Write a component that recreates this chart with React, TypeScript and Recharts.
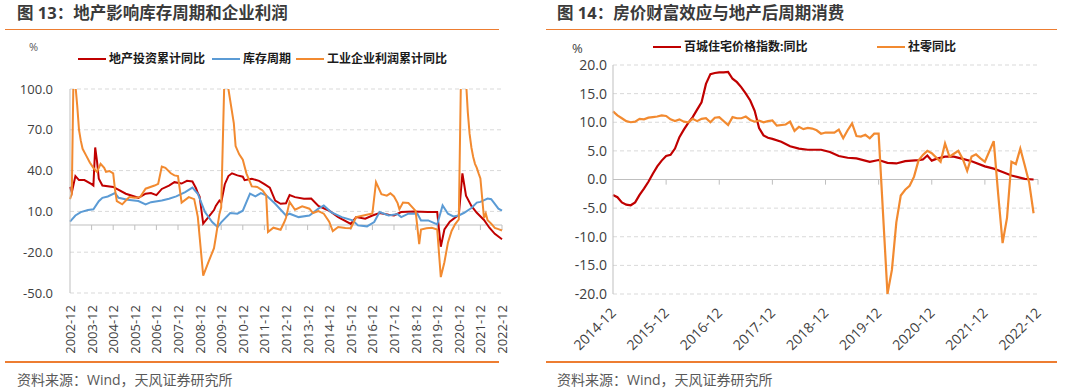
import { CartesianGrid, Line, LineChart, ReferenceLine, XAxis, YAxis } from "recharts";

type Point = [string, number];

// 图13：地产影响库存周期和企业利润 (monthly, base 2002-12)
const LEFT_BASE = "2002-12";
const leftYears = [2002, 2003, 2004, 2005, 2006, 2007, 2008, 2009, 2010, 2011, 2012, 2013, 2014, 2015, 2016, 2017, 2018, 2019, 2020, 2021, 2022];
const leftYTicks = [-50, -20, 10, 40, 70, 100];

const investYoY: Point[] = [
  ["2002-12", 28], ["2003-01", 24], ["2003-03", 36], ["2003-05", 33], ["2003-08", 33], ["2003-12", 30],
  ["2004-01", 29], ["2004-02", 57], ["2004-03", 47], ["2004-04", 34], ["2004-06", 29], ["2004-12", 28],
  ["2005-07", 23], ["2006-02", 20], ["2006-06", 23], ["2006-09", 23.5], ["2006-12", 22], ["2007-03", 26.5],
  ["2007-07", 29], ["2007-10", 31.5], ["2008-02", 30.5], ["2008-05", 32.5], ["2008-08", 32], ["2008-10", 27],
  ["2008-11", 23.5], ["2008-12", 21], ["2009-02", 1], ["2009-05", 6], ["2009-08", 11], ["2009-09", 14],
  ["2009-11", 18], ["2009-12", 16.5], ["2010-02", 30], ["2010-04", 36], ["2010-06", 38], ["2010-09", 36.5],
  ["2010-12", 35.5], ["2011-01", 33], ["2011-05", 34], ["2011-09", 32.5], ["2011-12", 30], ["2012-03", 27.5],
  ["2012-06", 18], ["2012-09", 15.6], ["2012-12", 16], ["2013-02", 22], ["2013-05", 20.5], ["2013-10", 19.3],
  ["2014-02", 19.5], ["2014-06", 14], ["2014-12", 10.5], ["2015-05", 5.8], ["2015-12", 0.8], ["2016-03", 5.8],
  ["2016-08", 4.6], ["2016-12", 7], ["2017-04", 8.8], ["2017-09", 7.5], ["2017-12", 7], ["2018-04", 9.5],
  ["2018-11", 10], ["2019-07", 9.5], ["2019-12", 9.5], ["2020-02", -16], ["2020-04", -3.3], ["2020-07", 2.5],
  ["2020-11", 6.5], ["2020-12", 7], ["2021-02", 38], ["2021-04", 21.6], ["2021-07", 14], ["2021-10", 9],
  ["2022-02", 3.7], ["2022-05", -2], ["2022-08", -6.5], ["2022-12", -10.5],
];

const inventoryCycle: Point[] = [
  ["2002-12", 2.5], ["2003-03", 7], ["2003-06", 9.5], ["2003-10", 11], ["2004-01", 11.5], ["2004-04", 17.5],
  ["2004-06", 20], ["2004-09", 21], ["2005-01", 23.5], ["2005-03", 20], ["2005-08", 18.6], ["2006-02", 17.6],
  ["2006-06", 15.2], ["2006-09", 16.8], ["2007-03", 18], ["2007-07", 19.3], ["2007-11", 21], ["2008-04", 24.2],
  ["2008-08", 27.5], ["2008-11", 23], ["2009-03", 9.5], ["2009-07", 2.2], ["2009-10", -1.5], ["2009-12", 2],
  ["2010-05", 8.8], ["2010-09", 8.3], ["2010-12", 10.5], ["2011-04", 23], ["2011-07", 21], ["2011-10", 23.5],
  ["2012-01", 21.8], ["2012-06", 15.6], ["2012-12", 7], ["2013-02", 8.3], ["2013-07", 5.8], ["2014-01", 7],
  ["2014-06", 12], ["2014-09", 14.4], ["2015-01", 9.5], ["2015-07", 5.8], ["2016-01", 3.4], ["2016-04", -0.3],
  ["2016-09", -1], ["2017-01", 2.2], ["2017-04", 9.5], ["2017-09", 7], ["2018-02", 8], ["2018-04", 5.8],
  ["2018-08", 8.3], ["2019-01", 8.3], ["2019-03", 3.4], ["2019-07", 3.4], ["2019-12", 0.4], ["2020-03", 14.4],
  ["2020-06", 8.3], ["2020-09", 6.3], ["2020-12", 7], ["2021-03", 9], ["2021-07", 12.5], ["2021-10", 16.5],
  ["2021-12", 17], ["2022-04", 19.5], ["2022-06", 19], ["2022-08", 15.5], ["2022-10", 12], ["2022-12", 10.5],
];

const profitYoY: Point[] = [
  ["2002-12", 19], ["2003-01", 23], ["2003-02", 116], ["2003-03", 103], ["2003-04", 88], ["2003-05", 70],
  ["2003-06", 62], ["2003-07", 56], ["2003-09", 51], ["2003-11", 46], ["2004-01", 42], ["2004-03", 39],
  ["2004-05", 45], ["2004-07", 42], ["2004-08", 39], ["2004-10", 39.6], ["2004-12", 38], ["2005-01", 26],
  ["2005-02", 17.5], ["2005-05", 15.2], ["2005-07", 18], ["2005-09", 20.5], ["2005-12", 20], ["2006-03", 20.5],
  ["2006-06", 26.7], ["2006-11", 29], ["2007-01", 30.3], ["2007-03", 43], ["2007-05", 42], ["2007-08", 38],
  ["2007-10", 36.5], ["2007-12", 36], ["2008-02", 16.5], ["2008-06", 20.5], ["2008-09", 19], ["2008-11", 6],
  ["2009-02", -37.3], ["2009-05", -27], ["2009-08", -17], ["2009-09", -9], ["2009-11", 8], ["2009-12", 13],
  ["2010-02", 120], ["2010-04", 100], ["2010-07", 75], ["2010-08", 58], ["2010-10", 52], ["2010-12", 48],
  ["2011-02", 38], ["2011-05", 28.4], ["2011-08", 28], ["2011-11", 25.4], ["2012-01", 21.8], ["2012-02", -5.2],
  ["2012-05", -2], ["2012-09", -3.5], ["2012-11", 2], ["2012-12", 5.3], ["2013-02", 17], ["2013-05", 11.2],
  ["2013-09", 13.7], ["2014-01", 12], ["2014-03", 8.8], ["2014-06", 10.2], ["2014-09", 8.3], ["2014-12", 2.5],
  ["2015-02", -4.5], ["2015-05", -1.5], ["2015-09", -2.2], ["2015-12", -2.3], ["2016-03", 5.8], ["2016-07", 7],
  ["2016-12", 8.5], ["2017-02", 31.5], ["2017-05", 22.7], ["2017-08", 21.6], ["2017-10", 23.3], ["2017-12", 21],
  ["2018-02", 16.1], ["2018-03", 11.6], ["2018-05", 16.5], ["2018-08", 16.2], ["2018-11", 11.8], ["2018-12", 10.3],
  ["2019-02", -14], ["2019-03", -3.3], ["2019-06", -2.4], ["2019-09", -2.1], ["2019-12", -3.3], ["2020-02", -38.3],
  ["2020-04", -27.4], ["2020-06", -12.8], ["2020-08", -4.4], ["2020-10", 0.7], ["2020-12", 4.1], ["2021-02", 179],
  ["2021-03", 137], ["2021-04", 106], ["2021-05", 83], ["2021-06", 67], ["2021-07", 57], ["2021-08", 50],
  ["2021-09", 45], ["2021-10", 42], ["2021-11", 38], ["2021-12", 34.3], ["2022-02", 5], ["2022-03", 8.5],
  ["2022-04", 3.5], ["2022-06", 1], ["2022-08", -2.1], ["2022-10", -3], ["2022-12", -4],
];

// 图14：房价财富效应与地产后周期消费 (monthly, base 2014-12)
const RIGHT_BASE = "2014-12";
const rightYears = [2014, 2015, 2016, 2017, 2018, 2019, 2020, 2021, 2022];
const rightYTicks = [-20, -15, -10, -5, 0, 5, 10, 15, 20];

const housePriceYoY: Point[] = [
  ["2014-12", -2.7], ["2015-01", -3.1], ["2015-02", -4.0], ["2015-03", -4.4], ["2015-04", -4.5], ["2015-05", -4.0],
  ["2015-06", -2.7], ["2015-07", -1.6], ["2015-08", -0.4], ["2015-09", 1.0], ["2015-10", 2.3], ["2015-11", 3.3],
  ["2015-12", 4.1], ["2016-01", 4.3], ["2016-02", 5.4], ["2016-03", 7.4], ["2016-04", 8.7], ["2016-05", 9.9],
  ["2016-06", 10.9], ["2016-07", 12.2], ["2016-08", 13.5], ["2016-09", 16.7], ["2016-10", 18.4], ["2016-11", 18.6],
  ["2016-12", 18.7], ["2017-01", 18.7], ["2017-02", 18.8], ["2017-03", 17.6], ["2017-04", 17.0], ["2017-05", 16.1],
  ["2017-06", 15.0], ["2017-07", 13.8], ["2017-08", 12.0], ["2017-09", 9.0], ["2017-10", 7.7], ["2017-11", 7.3],
  ["2017-12", 7.1], ["2018-02", 6.6], ["2018-04", 5.8], ["2018-06", 5.4], ["2018-08", 5.2], ["2018-11", 5.2],
  ["2019-01", 4.8], ["2019-03", 4.1], ["2019-05", 3.8], ["2019-07", 3.7], ["2019-10", 3.1], ["2019-12", 3.4],
  ["2020-02", 2.9], ["2020-04", 2.8], ["2020-06", 3.2], ["2020-09", 3.4], ["2020-10", 3.5], ["2020-11", 4.2],
  ["2020-12", 3.3], ["2021-01", 3.6], ["2021-03", 4.0], ["2021-05", 4.0], ["2021-07", 3.6], ["2021-09", 3.2],
  ["2021-12", 2.3], ["2022-02", 1.9], ["2022-04", 1.3], ["2022-06", 0.7], ["2022-09", 0.1], ["2022-11", 0.0],
];

const retailYoY: Point[] = [
  ["2014-12", 11.9], ["2015-01", 11.2], ["2015-02", 10.7], ["2015-03", 10.2], ["2015-04", 10.0], ["2015-05", 10.1],
  ["2015-06", 10.6], ["2015-07", 10.5], ["2015-08", 10.8], ["2015-09", 10.9], ["2015-10", 11.0], ["2015-11", 11.2],
  ["2015-12", 11.1], ["2016-01", 10.5], ["2016-02", 10.2], ["2016-03", 10.5], ["2016-04", 10.1], ["2016-05", 10.0],
  ["2016-06", 10.6], ["2016-07", 10.2], ["2016-08", 10.6], ["2016-09", 10.7], ["2016-10", 10.0], ["2016-11", 10.8],
  ["2016-12", 10.9], ["2017-02", 9.5], ["2017-03", 10.9], ["2017-04", 10.7], ["2017-05", 10.7], ["2017-06", 11.0],
  ["2017-07", 10.4], ["2017-08", 10.1], ["2017-09", 10.3], ["2017-10", 10.0], ["2017-11", 10.2], ["2017-12", 10.3],
  ["2018-01", 9.4], ["2018-03", 9.6], ["2018-04", 10.1], ["2018-05", 8.5], ["2018-06", 9.2], ["2018-07", 8.8],
  ["2018-08", 9.0], ["2018-09", 8.9], ["2018-10", 8.6], ["2018-11", 8.0], ["2018-12", 8.2], ["2019-02", 8.2],
  ["2019-03", 8.7], ["2019-04", 7.2], ["2019-05", 8.6], ["2019-06", 9.8], ["2019-07", 7.6], ["2019-08", 7.5],
  ["2019-09", 7.8], ["2019-10", 7.2], ["2019-11", 8.0], ["2019-12", 8.0], ["2020-02", -20.0], ["2020-03", -15.8],
  ["2020-04", -7.5], ["2020-05", -2.8], ["2020-06", -1.8], ["2020-07", -1.1], ["2020-08", 0.5], ["2020-09", 3.3],
  ["2020-10", 4.3], ["2020-11", 5.0], ["2020-12", 4.6], ["2021-02", 3.1], ["2021-03", 6.3], ["2021-04", 4.0],
  ["2021-05", 4.5], ["2021-06", 5.0], ["2021-07", 3.6], ["2021-08", 1.5], ["2021-09", 4.0], ["2021-10", 4.4],
  ["2021-11", 3.7], ["2021-12", 3.1], ["2022-02", 6.7], ["2022-03", -2.5], ["2022-04", -11.1], ["2022-05", -6.7],
  ["2022-06", 3.1], ["2022-07", 2.7], ["2022-08", 5.4], ["2022-09", 2.5], ["2022-10", -0.5], ["2022-11", -5.9],
];

const RED = "#C00000";
const BLUE = "#5B9BD5";
const ORANGE = "#F28A30";
const RULE = "#ED7D31";
const AXIS = "#BFBFBF";
const GRID = "#D9D9D9";
const TEXT = "#404040";

function monthIndex(date: string, base: string) {
  const [y, m] = date.split("-").map(Number);
  const [by, bm] = base.split("-").map(Number);
  return (y - by) * 12 + (m - bm);
}

function toRows(points: Point[], base: string) {
  return points.map(([d, v]) => ({ m: monthIndex(d, base), v }));
}

function yearTicks(years: number[], base: string) {
  return years.map((y) => monthIndex(`${y}-12`, base));
}

function tickLabel(m: number, base: string) {
  const [by, bm] = base.split("-").map(Number);
  const total = by * 12 + (bm - 1) + m;
  const y = Math.floor(total / 12);
  const mo = (total % 12) + 1;
  return `${y}-${String(mo).padStart(2, "0")}`;
}

function LegendItem({ left, top, color, label }: { left: number; top: number; color: string; label: string }) {
  return (
    <div style={{ position: "absolute", left, top, display: "flex", alignItems: "center", height: 16 }}>
      <div style={{ width: 28, height: 2.5, background: color, marginRight: 3 }} />
      <span style={{ fontSize: 12, fontWeight: 700, color: "#1a1a1a", lineHeight: "16px", whiteSpace: "nowrap" }}>{label}</span>
    </div>
  );
}

function LeftChart() {
  const ticks = yearTicks(leftYears, LEFT_BASE);
  return (
    <LineChart width={540} height={390} margin={{ top: 89, right: 38, bottom: 37, left: 0 }}>
      <CartesianGrid vertical={false} stroke={GRID} strokeDasharray="4 3" />
      <XAxis
        type="number"
        dataKey="m"
        domain={[0, 240]}
        ticks={ticks}
        axisLine={false}
        tickLine={false}
        tickSize={0}
        tickMargin={12}
        height={60}
        interval={0}
        tick={({ x, y, payload }: any) => (
          <text x={x} y={y} transform={`rotate(-90 ${x} ${y})`} textAnchor="end" dominantBaseline="central" fontSize={13} fill={TEXT}>
            {tickLabel(payload.value, LEFT_BASE)}
          </text>
        )}
      />
      <YAxis
        type="number"
        domain={[-50, 100]}
        ticks={leftYTicks}
        allowDataOverflow
        width={70}
        axisLine={{ stroke: AXIS }}
        tickLine={false}
        tickSize={0}
        tickMargin={17}
        tick={{ fill: TEXT, fontSize: 13 }}
        tickFormatter={(v: number) => v.toFixed(1)}
      />
      <ReferenceLine y={0} stroke={AXIS} strokeWidth={1.2} />
      {ticks.slice(1).map((t) => (
        <ReferenceLine key={t} segment={[{ x: t, y: 0 }, { x: t, y: -3.7 }]} stroke={AXIS} />
      ))}
      <Line data={toRows(investYoY, LEFT_BASE)} dataKey="v" stroke={RED} strokeWidth={2} dot={false} isAnimationActive={false} />
      <Line data={toRows(inventoryCycle, LEFT_BASE)} dataKey="v" stroke={BLUE} strokeWidth={2} dot={false} isAnimationActive={false} />
      <Line data={toRows(profitYoY, LEFT_BASE)} dataKey="v" stroke={ORANGE} strokeWidth={2} dot={false} isAnimationActive={false} />
    </LineChart>
  );
}

function RightChart() {
  const ticks = yearTicks(rightYears, RIGHT_BASE);
  return (
    <LineChart width={540} height={390} margin={{ top: 65, right: 42, bottom: 36, left: 0 }}>
      <CartesianGrid vertical={false} stroke={GRID} strokeDasharray="4 3" />
      <XAxis
        type="number"
        dataKey="m"
        domain={[0, 96]}
        ticks={ticks}
        axisLine={false}
        tickLine={false}
        tickSize={0}
        tickMargin={16}
        height={60}
        interval={0}
        tick={({ x, y, payload }: any) => (
          <text x={x} y={y} transform={`rotate(-45 ${x} ${y})`} textAnchor="end" dominantBaseline="central" fontSize={14} fill={TEXT}>
            {tickLabel(payload.value, RIGHT_BASE)}
          </text>
        )}
      />
      <YAxis
        type="number"
        domain={[-20, 20]}
        ticks={rightYTicks}
        allowDataOverflow
        width={73}
        axisLine={{ stroke: AXIS }}
        tickLine={false}
        tickSize={0}
        tickMargin={6}
        tick={{ fill: TEXT, fontSize: 14 }}
        tickFormatter={(v: number) => v.toFixed(1)}
      />
      <ReferenceLine y={0} stroke={AXIS} strokeWidth={1.2} />
      {ticks.slice(1).map((t) => (
        <ReferenceLine key={t} segment={[{ x: t, y: 0 }, { x: t, y: -0.9 }]} stroke={AXIS} />
      ))}
      <Line data={toRows(housePriceYoY, RIGHT_BASE)} dataKey="v" stroke={RED} strokeWidth={2.2} dot={false} isAnimationActive={false} />
      <Line data={toRows(retailYoY, RIGHT_BASE)} dataKey="v" stroke={ORANGE} strokeWidth={2.2} dot={false} isAnimationActive={false} />
    </LineChart>
  );
}

export default function App() {
  const titleStyle = { position: "absolute" as const, top: 4, fontSize: 16.5, lineHeight: "18px", fontWeight: 700, color: "#3a3a3a", whiteSpace: "nowrap" as const };
  const sourceStyle = { position: "absolute" as const, top: 371, fontSize: 14, lineHeight: "18px", color: "#595959", whiteSpace: "nowrap" as const };
  return (
    <div
      style={{
        position: "relative",
        width: 1080,
        height: 390,
        background: "#fff",
        overflow: "hidden",
        fontFamily: '"Open Sans", "Noto Sans CJK SC", sans-serif',
      }}
    >
      <style>{"body{margin:0}"}</style>

      {/* left panel */}
      <div style={{ ...titleStyle, left: 17 }}>图 13：地产影响库存周期和企业利润</div>
      <div style={{ position: "absolute", left: 5, top: 28.5, width: 494, height: 1.5, background: RULE }} />
      <div style={{ position: "absolute", left: 0, top: 0 }}>
        <LeftChart />
      </div>
      <div style={{ position: "absolute", left: 29, top: 39, fontSize: 11, color: "#595959" }}>%</div>
      <LegendItem left={78} top={51} color={RED} label="地产投资累计同比" />
      <LegendItem left={212} top={51} color={BLUE} label="库存周期" />
      <LegendItem left={296} top={51} color={ORANGE} label="工业企业利润累计同比" />
      <div style={{ position: "absolute", left: 5, top: 361, width: 494, height: 1.5, background: RULE }} />
      <div style={{ ...sourceStyle, left: 17 }}>资料来源：Wind，天风证券研究所</div>

      {/* right panel */}
      <div style={{ ...titleStyle, left: 557 }}>图 14：房价财富效应与地产后周期消费</div>
      <div style={{ position: "absolute", left: 546, top: 28.5, width: 511, height: 1.5, background: RULE }} />
      <div style={{ position: "absolute", left: 540, top: 0 }}>
        <RightChart />
      </div>
      <div style={{ position: "absolute", left: 572, top: 39, fontSize: 13, color: "#404040" }}>%</div>
      <LegendItem left={653} top={39} color={RED} label="百城住宅价格指数:同比" />
      <LegendItem left={877} top={39} color={ORANGE} label="社零同比" />
      <div style={{ position: "absolute", left: 546, top: 361, width: 511, height: 1.5, background: RULE }} />
      <div style={{ ...sourceStyle, left: 557 }}>资料来源：Wind，天风证券研究所</div>
    </div>
  );
}
